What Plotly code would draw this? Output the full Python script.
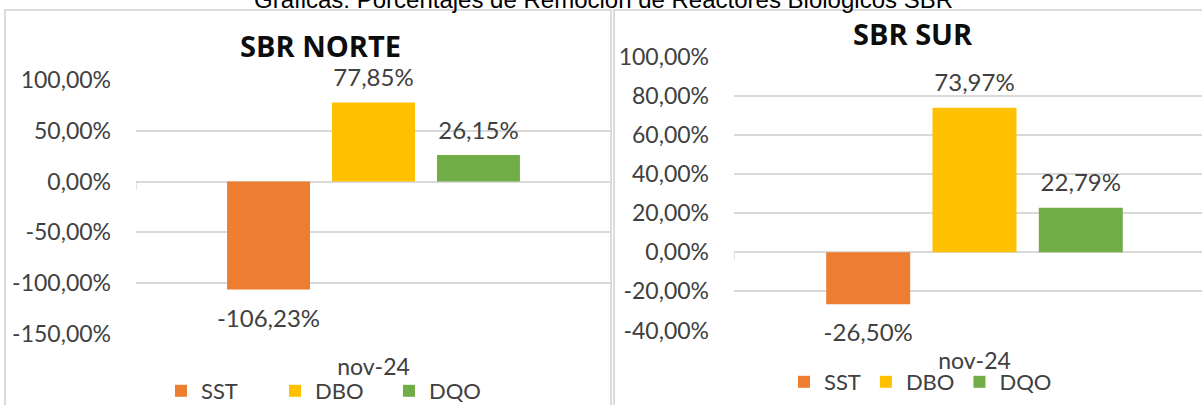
import plotly.graph_objects as go

# ---- data ----
series = ["SST", "DBO", "DQO"]
category = ["nov-24"]
norte_values = [-106.23, 77.85, 26.15]
sur_values = [-26.50, 73.97, 22.79]
colors = ["#ED7D31", "#FFC000", "#70AD47"]

norte_tickvals = [100, 50, 0, -50, -100, -150]
norte_ticktext = ["100,00%", "50,00%", "0,00%", "-50,00%", "-100,00%", "-150,00%"]
sur_tickvals = [100, 80, 60, 40, 20, 0, -20, -40]
sur_ticktext = ["100,00%", "80,00%", "60,00%", "40,00%", "20,00%", "0,00%", "-20,00%", "-40,00%"]

page_title = "Gráficas: Porcentajes de Remoción de Reactores Biológicos SBR"
title_norte = "SBR NORTE"
title_sur = "SBR SUR"

W, H = 1202, 405
FONT = "Lato, 'Open Sans', sans-serif"
TITLE_FONT = "'Open Sans', Lato, sans-serif"
TXT = "#404040"
GRID = "#d9d9d9"


def pct(v):
    return f"{v:.2f}".replace(".", ",") + "%"


def px_x(p):
    return p / W


def px_y(p):
    return 1 - p / H


fig = go.Figure()

panels = [
    (norte_values, "x", "y", "legend"),
    (sur_values, "x2", "y2", "legend2"),
]
for vals, xa, ya, leg in panels:
    for i, name in enumerate(series):
        v = vals[i]
        fig.add_trace(go.Bar(
            x=category, y=[v], name=name, marker_color=colors[i],
            offsetgroup=name, xaxis=xa, yaxis=ya, legend=leg,
            hoverinfo="skip", marker_line_width=0,
        ))
        fig.add_trace(go.Scatter(
            x=category, y=[v], mode="markers+text", text=[pct(v)],
            textposition="top center" if v >= 0 else "bottom center",
            marker=dict(size=15 if v >= 0 else 29, opacity=0),
            textfont=dict(family=FONT, size=24, color=TXT),
            offsetgroup=name, xaxis=xa, yaxis=ya, showlegend=False,
            cliponaxis=False, hoverinfo="skip",
        ))

axis_common = dict(showline=False, ticks="", showgrid=False, zeroline=False,
                   fixedrange=True, automargin=False,
                   tickfont=dict(family=FONT, size=23, color=TXT))
yaxis_common = dict(showline=False, ticks="", showgrid=True, gridcolor=GRID,
                    gridwidth=1.5, zeroline=True, zerolinecolor=GRID,
                    zerolinewidth=1.5, automargin=False, ticklabelstandoff=24,
                    fixedrange=True,
                    tickfont=dict(family=FONT, size=23, color=TXT))

# small category-axis tick marks at the left end of the zero line
axis_ticks = [
    dict(type="line", xref="x", yref="y", x0=-0.5, x1=-0.5,
         ysizemode="pixel", yanchor=0, y0=0, y1=-8,
         line=dict(color=GRID, width=1.5)),
    dict(type="line", xref="x2", yref="y2", x0=-0.5, x1=-0.5,
         ysizemode="pixel", yanchor=0, y0=0, y1=-8,
         line=dict(color=GRID, width=1.5)),
]

fig.update_layout(
    width=W, height=H,
    margin=dict(l=0, r=0, t=0, b=0, pad=0, autoexpand=False),
    template="none",
    paper_bgcolor="white", plot_bgcolor="white",
    barmode="group", bargap=0.337, bargroupgap=0.21,
    scattermode="group", scattergap=0.337,
    font=dict(family=FONT, color=TXT),
    xaxis=dict(domain=[px_x(136), px_x(611)], range=[-0.5, 0.5], anchor="y",
               ticklabelstandoff=17, **axis_common),
    yaxis=dict(domain=[px_y(334), px_y(80)], range=[-150, 100], anchor="x",
               tickvals=norte_tickvals, ticktext=norte_ticktext, **yaxis_common),
    xaxis2=dict(domain=[px_x(734), 1.0], range=[-0.5, 0.473], anchor="y2",
                ticklabelstandoff=14, **axis_common),
    yaxis2=dict(domain=[px_y(330.5), px_y(57)], range=[-40, 100], anchor="x2",
                tickvals=sur_tickvals, ticktext=sur_ticktext, **yaxis_common),
    legend=dict(orientation="h", x=px_x(161), xanchor="left", y=px_y(391),
                yanchor="middle", font=dict(family=FONT, size=22, color=TXT),
                entrywidth=69, entrywidthmode="pixels",
                bgcolor="rgba(0,0,0,0)", borderwidth=0),
    legend2=dict(orientation="h", x=px_x(784), xanchor="left", y=px_y(382),
                 yanchor="middle", font=dict(family=FONT, size=22, color=TXT),
                 bgcolor="rgba(0,0,0,0)", borderwidth=0),
    showlegend=True,
    shapes=[
        dict(type="rect", xref="paper", yref="paper",
             x0=px_x(5), x1=px_x(611), y0=px_y(420), y1=px_y(10),
             line=dict(color="#d0d0d0", width=1.5), fillcolor="rgba(0,0,0,0)",
             layer="below"),
        dict(type="rect", xref="paper", yref="paper",
             x0=px_x(614), x1=px_x(1215), y0=px_y(420), y1=px_y(10),
             line=dict(color="#d0d0d0", width=1.5), fillcolor="rgba(0,0,0,0)",
             layer="below"),
    ] + axis_ticks,
    annotations=[
        dict(text=page_title, xref="paper", yref="paper", x=px_x(603),
             y=px_y(-1), xanchor="center", yanchor="middle", showarrow=False,
             font=dict(family="Liberation Sans, Arial, sans-serif", size=24,
                       color="#000000")),
        dict(text=f"<b>{title_norte}</b>", xref="paper", yref="paper",
             x=px_x(320), y=px_y(45), xanchor="center", yanchor="middle",
             showarrow=False, font=dict(family=TITLE_FONT, size=29, color="#0d0d0d")),
        dict(text=f"<b>{title_sur}</b>", xref="paper", yref="paper",
             x=px_x(913), y=px_y(34), xanchor="center", yanchor="middle",
             showarrow=False, font=dict(family=TITLE_FONT, size=29, color="#0d0d0d")),
    ],
)

fig.write_html("out.html", config={"displayModeBar": False},
               post_script="document.body.style.margin='0px';")
